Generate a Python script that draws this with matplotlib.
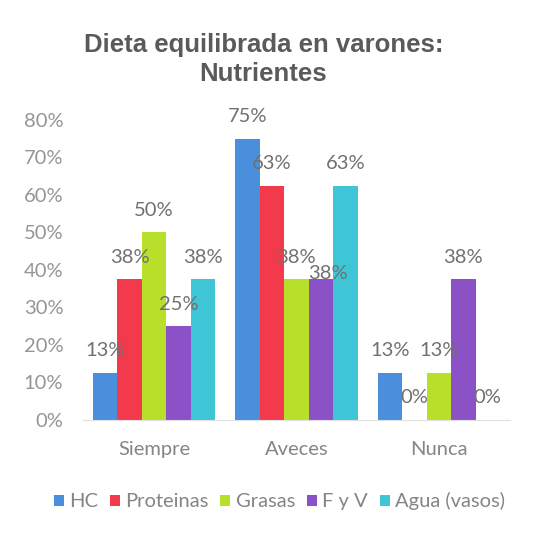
import numpy as np
import matplotlib.pyplot as plt

# data
categories = ['Siempre', 'Aveces', 'Nunca']
series = ['HC', 'Proteinas', 'Grasas', 'F y V', 'Agua (vasos)']
hc = [12.5, 75, 12.5]
proteinas = [37.5, 62.5, 0]
grasas = [50, 37.5, 12.5]
fyv = [25, 37.5, 37.5]
agua = [37.5, 62.5, 0]
labels = [['13%', '75%', '13%'],
          ['38%', '63%', '0%'],
          ['50%', '38%', '13%'],
          ['25%', '38%', '38%'],
          ['38%', '63%', '0%']]
yticks = [0, 10, 20, 30, 40, 50, 60, 70, 80]

colors = ['#4a8fdc', '#f23a4c', '#b8e02a', '#8b52c8', '#3ec5d6']
values = [hc, proteinas, grasas, fyv, agua]

fig = plt.figure(figsize=(5.34, 5.34), dpi=100)
ax = fig.add_axes([0.155, 0.2135, 0.8, 0.5618])

x = np.arange(len(categories))
w = 0.172
for i, (vals, c, name) in enumerate(zip(values, colors, series)):
    pos = x + (i - 2) * w
    ax.bar(pos, vals, width=w, color=c, label=name)
    for j, (px, v) in enumerate(zip(pos, vals)):
        dx, dy = 0, 16
        if i == 3 and j == 1:  # overlapping label moved by Excel
            dx, dy = 5, 4
        ax.annotate(labels[i][j], (px, v), xytext=(dx, dy), textcoords='offset points',
                    ha='center', va='center', fontsize=14.5, color='#707070', family='Lato')

ax.set_xlim(-0.5, 2.5)
ax.set_ylim(0, 80)
ax.set_yticks(yticks)
ax.set_yticklabels([f'{t}%' for t in yticks], fontsize=14.5, color='#959595', family='Lato')
ax.set_xticks(x)
ax.set_xticklabels(categories, fontsize=14.5, color='#858585', family='Lato')
ax.tick_params(axis='both', length=0)
ax.tick_params(axis='x', pad=15)
ax.tick_params(axis='y', pad=14)
for s in ['top', 'right', 'left']:
    ax.spines[s].set_visible(False)
ax.spines['bottom'].set_color('#e0e0e0')

fig.text(0.493, 0.888, 'Dieta equilibrada en varones:\nNutrientes', ha='center', va='center',
         fontsize=18.5, fontweight='bold', color='#5a5a5a', family='Liberation Sans',
         linespacing=1.25)

fig.legend(loc='center', bbox_to_anchor=(0.523, 0.061), ncol=5, frameon=False,
           handlelength=0.5, handleheight=0.5, handletextpad=0.25, columnspacing=0.6,
           prop={'family': 'Lato', 'size': 14.5}, labelcolor='#858585')

plt.savefig('out.png', dpi=100)
